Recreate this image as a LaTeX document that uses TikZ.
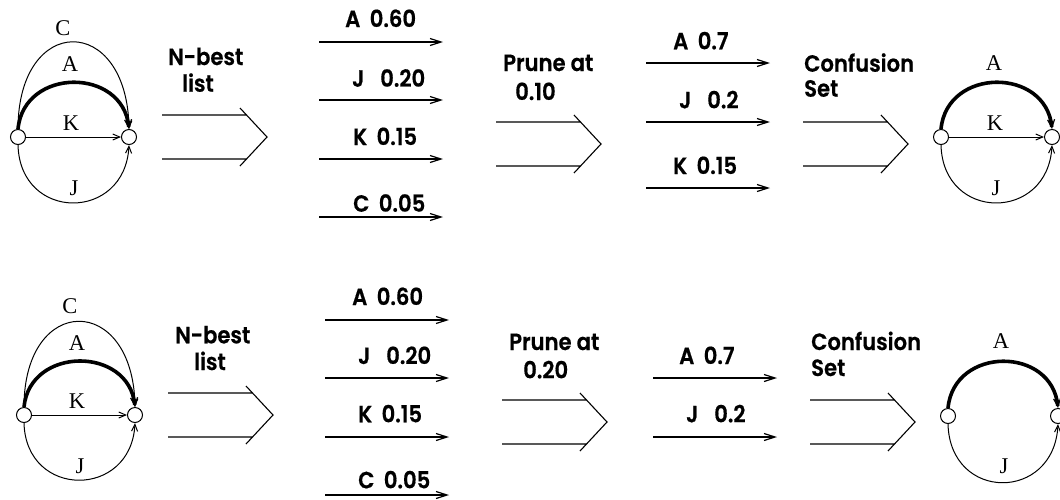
\documentclass[tikz,border=0pt]{standalone}
\usepackage{fontspec}
\setmainfont{Liberation Serif}
\newfontfamily\labfont{Poppins}[UprightFont=* SemiBold, FakeStretch=0.9, FakeBold=0.6]
\usetikzlibrary{arrows.meta}

\newcommand\gap{\hspace{0.4em}}
\newcommand\wgap{\hspace{0.68em}}

\tikzset{
  state/.style={circle, draw, fill=white, line width=1pt, minimum size=15pt, inner sep=0pt},
  arclabel/.style={font=\fontsize{22.5}{22.5}\selectfont, anchor=base, inner sep=0pt},
  sans/.style={font=\labfont\fontsize{23.5}{23.5}\selectfont, anchor=base west, inner sep=0pt},
  edge/.style={line width=1pt, -{Straight Barb[length=7pt,width=6pt]}},
  best/.style={line width=3.6pt, -{Straight Barb[length=8pt,width=7pt,line width=1.2pt]}},
  listarrow/.style={line width=1.2pt, -{Straight Barb[length=11pt,width=7pt]}},
  chevron/.pic={
    \draw[line width=1.1pt] (0,-22) -- (84.5,-22) (0,22) -- (84.5,22)
      (78,-29) -- (105,0) -- (78,29);
  }
}

\begin{document}
\begin{tikzpicture}[x=1pt, y=-1pt]
\useasboundingbox (0,0) rectangle (1060,499);

% ---------- first row ----------
% word graph
\node[state] (a1) at (18,137) {};
\node[state] (b1) at (129,137) {};
\draw[edge] (a1.north) .. controls +(0,-116) and +(-2,-116) .. (b1.north);
\draw[best] (a1.north) .. controls +(6,-62) and +(-6,-62) .. (b1.north);
\draw[edge] (a1) -- (b1);
\draw[edge] (a1.south) .. controls +(2,77) and +(-4,77) .. (b1.south);
\node[arclabel] (c1l) at (63,35) {C};
\node[arclabel] (a1l) at (70,71.7) {A};
\node[arclabel] (k1l) at (71,130) {K};
\node[arclabel] (j1l) at (74,195) {J};

\node[sans] (nb1) at (168,65) {N-best};
\node[sans] (ls1) at (182,91.7) {list};
\pic at (162,137) {chevron};

% N-best list
\coordinate (l1s1) at (319,42);  \coordinate (l1e1) at (443,42);
\coordinate (l1s2) at (319,100); \coordinate (l1e2) at (443,100);
\coordinate (l1s3) at (319,159); \coordinate (l1e3) at (443,159);
\coordinate (l1s4) at (319,217); \coordinate (l1e4) at (443,217);
\draw[listarrow] (l1s1) -- (l1e1);
\draw[listarrow] (l1s2) -- (l1e2);
\draw[listarrow] (l1s3) -- (l1e3);
\draw[listarrow] (l1s4) -- (l1e4);
\node[sans] (t1a) at (345,27) {A\gap0.60};
\node[sans] (t1j) at (352,86.7) {J\wgap0.20};
\node[sans] (t1k) at (353,145) {K\gap0.15};
\node[sans] (t1c) at (353,211.7) {C\gap0.05};

\node[sans] (pr1) at (503,71) {Prune at};
\node[sans] (pv1) at (515,100) {0.10};
\pic at (496,144) {chevron};

% pruned list
\coordinate (p1s1) at (646,63);  \coordinate (p1e1) at (770,63);
\coordinate (p1s2) at (646,122); \coordinate (p1e2) at (770,122);
\coordinate (p1s3) at (646,188); \coordinate (p1e3) at (770,188);
\draw[listarrow] (p1s1) -- (p1e1);
\draw[listarrow] (p1s2) -- (p1e2);
\draw[listarrow] (p1s3) -- (p1e3);
\node[sans] (u1a) at (673,49.3) {A\gap0.7};
\node[sans] (u1j) at (679,108.3) {J\wgap0.2};
\node[sans] (u1k) at (673,174) {K\gap0.15};

\node[sans] (cf1) at (804,71.7) {Confusion};
\node[sans] (st1) at (804,96.7) {Set};
\pic at (803,144) {chevron};

% confusion set graph
\node[state] (x1) at (941,137) {};
\node[state] (y1) at (1052,137) {};
\draw[best] (x1.north) .. controls +(6,-62) and +(-6,-62) .. (y1.north);
\draw[edge] (x1) -- (y1);
\draw[edge] (x1.south) .. controls +(2,77) and +(-4,77) .. (y1.south);
\node[arclabel] (xa1) at (994,70.7) {A};
\node[arclabel] (xk1) at (995,130) {K};
\node[arclabel] (xj1) at (996,195) {J};

% ---------- second row ----------
\node[state] (a2) at (24,415) {};
\node[state] (b2) at (135,415) {};
\draw[edge] (a2.north) .. controls +(0,-114) and +(-2,-114) .. (b2.north);
\draw[best] (a2.north) .. controls +(6,-61) and +(-6,-61) .. (b2.north);
\draw[edge] (a2) -- (b2);
\draw[edge] (a2.south) .. controls +(2,76) and +(-4,76) .. (b2.south);
\node[arclabel] (c2l) at (70,313.3) {C};
\node[arclabel] (a2l) at (77,350) {A};
\node[arclabel] (k2l) at (77,408.3) {K};
\node[arclabel] (j2l) at (80,473.3) {J};

\node[sans] (nb2) at (175,343.3) {N-best};
\node[sans] (ls2) at (194,370) {list};
\pic at (168,415) {chevron};

\coordinate (l2s1) at (325,320); \coordinate (l2e1) at (449,320);
\coordinate (l2s2) at (325,378); \coordinate (l2e2) at (449,378);
\coordinate (l2s3) at (325,437); \coordinate (l2e3) at (449,437);
\coordinate (l2s4) at (325,495); \coordinate (l2e4) at (449,495);
\draw[listarrow] (l2s1) -- (l2e1);
\draw[listarrow] (l2s2) -- (l2e2);
\draw[listarrow] (l2s3) -- (l2e3);
\draw[listarrow] (l2s4) -- (l2e4);
\node[sans] (t2a) at (352,305) {A\gap0.60};
\node[sans] (t2j) at (358,364) {J\wgap0.20};
\node[sans] (t2k) at (358,422.3) {K\gap0.15};
\node[sans] (t2c) at (358,488.3) {C\gap0.05};

\node[sans] (pr2) at (509,350) {Prune at};
\node[sans] (pv2) at (523,378.3) {0.20};
\pic at (502,422) {chevron};

\coordinate (p2s1) at (653,378); \coordinate (p2e1) at (777,378);
\coordinate (p2s2) at (653,437); \coordinate (p2e2) at (777,437);
\draw[listarrow] (p2s1) -- (p2e1);
\draw[listarrow] (p2s2) -- (p2e2);
\node[sans] (u2a) at (679,364) {A\gap0.7};
\node[sans] (u2j) at (686,422.3) {J\wgap0.2};

\node[sans] (cf2) at (811,350) {Confusion};
\node[sans] (st2) at (811,376) {Set};
\pic at (810,422) {chevron};

\node[state] (x2) at (948,416) {};
\node[state] (y2) at (1058,416) {};
\draw[best] (x2.north) .. controls +(6,-62) and +(-6,-62) .. (y2.north);
\draw[edge] (x2.south) .. controls +(2,78) and +(-4,78) .. (y2.south);
\node[arclabel] (xa2) at (1001,348.3) {A};
\node[arclabel] (xj2) at (1004,473.3) {J};
\end{tikzpicture}
\end{document}
